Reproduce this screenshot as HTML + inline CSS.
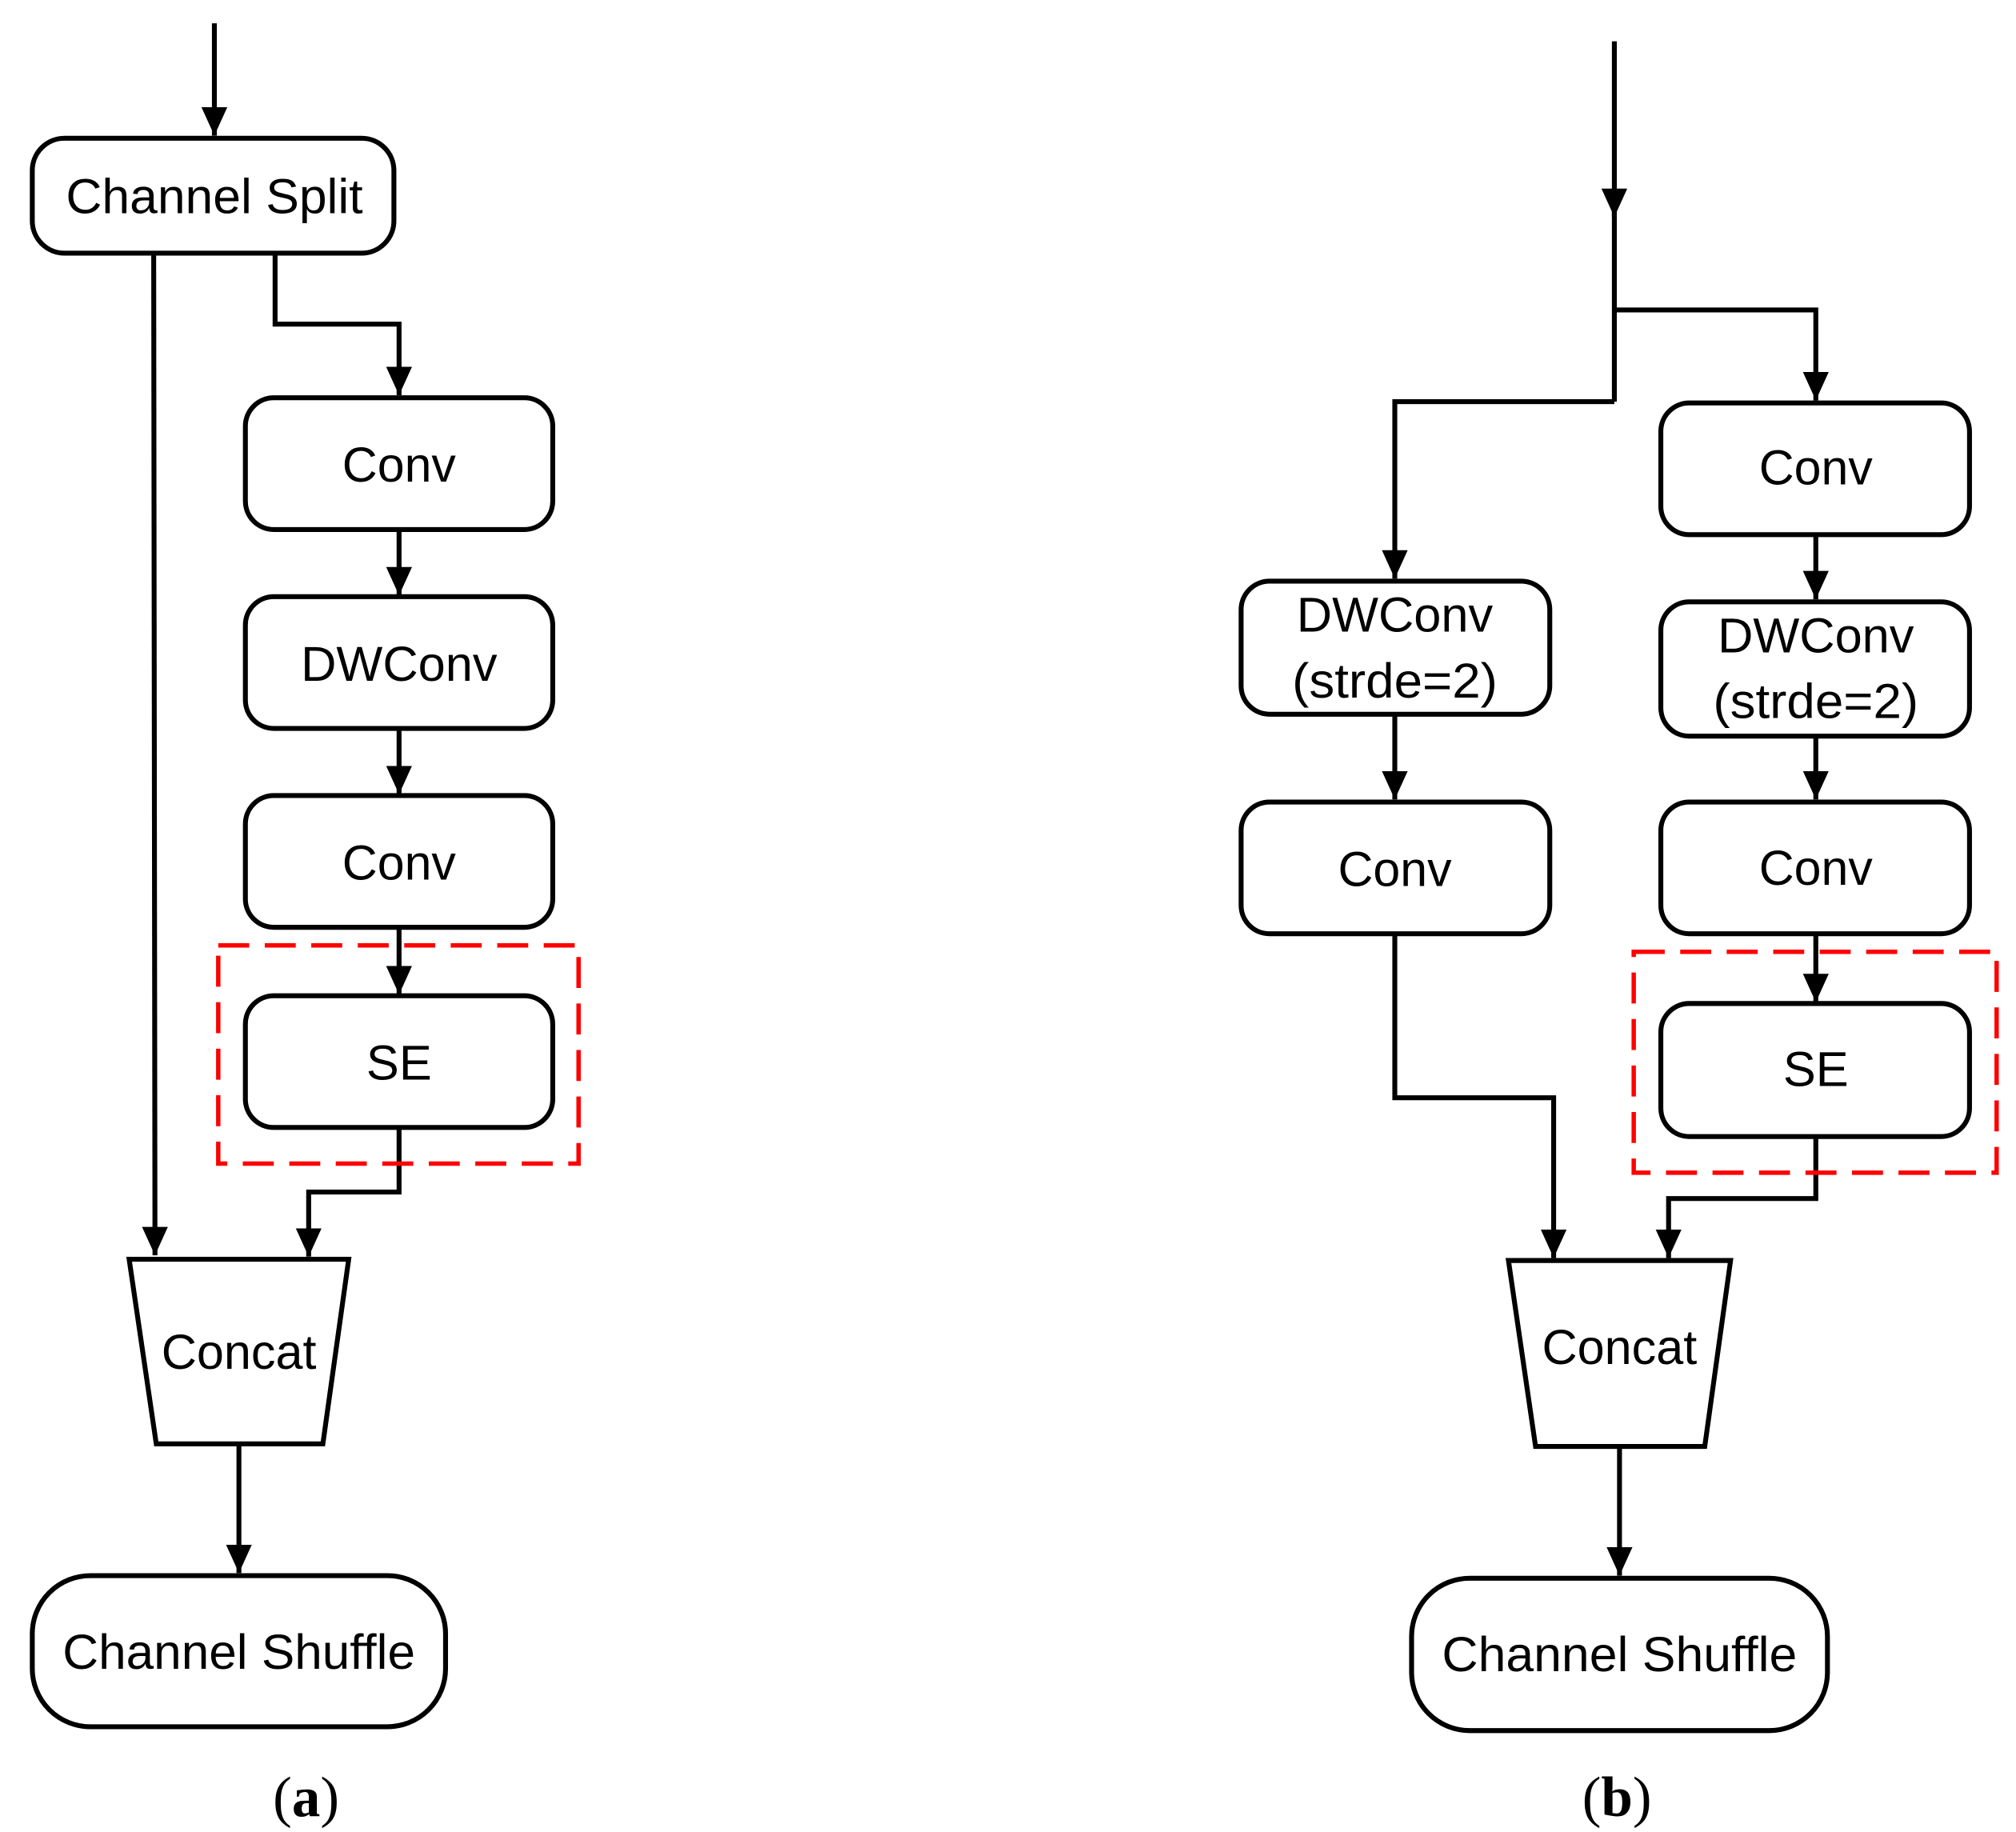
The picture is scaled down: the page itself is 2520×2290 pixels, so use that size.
<!DOCTYPE html>
<html><head><meta charset="utf-8"><style>html,body{margin:0;padding:0;background:#fff}svg{display:block}</style></head>
<body>
<svg width="2520" height="2290" viewBox="0 0 1561 1418.5" xmlns="http://www.w3.org/2000/svg">
<defs>
<marker id="ar" viewBox="0 0 22 20" refX="22" refY="10" markerWidth="22" markerHeight="20" markerUnits="userSpaceOnUse" orient="auto">
<path d="M0,0 L22,10 L0,20 z" fill="#000"/>
</marker>
</defs>
<g fill="none" stroke="#000" stroke-width="3.8">
<line x1="166" y1="18" x2="166" y2="105" marker-end="url(#ar)"/>
<rect x="25" y="107" width="280" height="89" rx="25"/>
<polyline points="119,196 120,972" marker-end="url(#ar)"/>
<polyline points="213,196 213,251 309,251 309,306" marker-end="url(#ar)"/>
<rect x="190" y="308" width="238" height="102" rx="22"/>
<line x1="309" y1="410" x2="309" y2="461" marker-end="url(#ar)"/>
<rect x="190" y="462" width="238" height="102" rx="22"/>
<line x1="309" y1="564" x2="309" y2="615" marker-end="url(#ar)"/>
<rect x="190" y="616" width="238" height="102" rx="22"/>
<line x1="309" y1="718" x2="309" y2="770" marker-end="url(#ar)"/>
<rect x="190" y="771" width="238" height="102" rx="22"/>
<polyline points="309,873 309,923 239,923 239,973" marker-end="url(#ar)"/>
<polygon points="100,975 270,975 250,1118 121,1118"/>
<line x1="185" y1="1118" x2="185" y2="1218" marker-end="url(#ar)"/>
<rect x="25" y="1220" width="320" height="117" rx="45"/>
<line x1="1250" y1="32" x2="1250" y2="168" marker-end="url(#ar)"/>
<line x1="1250" y1="160" x2="1250" y2="311"/>
<polyline points="1250,240 1406,240 1406,310" marker-end="url(#ar)"/>
<polyline points="1250,311 1080,311 1080,448" marker-end="url(#ar)"/>
<rect x="961" y="450" width="239" height="103" rx="22"/>
<line x1="1080" y1="553" x2="1080" y2="619" marker-end="url(#ar)"/>
<rect x="961" y="621" width="239" height="102" rx="22"/>
<polyline points="1080,723 1080,850 1203,850 1203,974" marker-end="url(#ar)"/>
<rect x="1286" y="312" width="239" height="102" rx="22"/>
<line x1="1406" y1="414" x2="1406" y2="464" marker-end="url(#ar)"/>
<rect x="1286" y="466" width="239" height="104" rx="22"/>
<line x1="1406" y1="570" x2="1406" y2="619" marker-end="url(#ar)"/>
<rect x="1286" y="621" width="239" height="102" rx="22"/>
<line x1="1406" y1="723" x2="1406" y2="776" marker-end="url(#ar)"/>
<rect x="1286" y="777" width="239" height="103" rx="22"/>
<polyline points="1406,880 1406,928 1292,928 1292,974" marker-end="url(#ar)"/>
<polygon points="1168,976 1340,976 1320,1120 1189,1120"/>
<line x1="1254" y1="1120" x2="1254" y2="1220" marker-end="url(#ar)"/>
<rect x="1093" y="1222" width="322" height="118" rx="45"/>
</g>
<g fill="none" stroke="#f00" stroke-width="3.4" stroke-dasharray="24,12">
<rect x="169" y="732" width="279" height="169"/>
<rect x="1265" y="737" width="281" height="171"/>
</g>
<g font-family="'Liberation Sans',sans-serif" font-size="38" text-anchor="middle" fill="#000">
<text x="166" y="165" textLength="230" lengthAdjust="spacingAndGlyphs">Channel Split</text>
<text x="309" y="373" textLength="88" lengthAdjust="spacingAndGlyphs">Conv</text>
<text x="309" y="527" textLength="152" lengthAdjust="spacingAndGlyphs">DWConv</text>
<text x="309" y="681" textLength="88" lengthAdjust="spacingAndGlyphs">Conv</text>
<text x="309" y="836">SE</text>
<text x="185" y="1060" textLength="120" lengthAdjust="spacingAndGlyphs">Concat</text>
<text x="185" y="1292" textLength="273" lengthAdjust="spacingAndGlyphs">Channel Shuffle</text>
<text x="1080" y="489" textLength="152" lengthAdjust="spacingAndGlyphs">DWConv</text>
<text x="1080" y="540" textLength="159" lengthAdjust="spacingAndGlyphs">(strde=2)</text>
<text x="1080" y="686" textLength="88" lengthAdjust="spacingAndGlyphs">Conv</text>
<text x="1406" y="375" textLength="88" lengthAdjust="spacingAndGlyphs">Conv</text>
<text x="1406" y="505" textLength="152" lengthAdjust="spacingAndGlyphs">DWConv</text>
<text x="1406" y="556" textLength="159" lengthAdjust="spacingAndGlyphs">(strde=2)</text>
<text x="1406" y="685" textLength="88" lengthAdjust="spacingAndGlyphs">Conv</text>
<text x="1406" y="841">SE</text>
<text x="1254" y="1056" textLength="120" lengthAdjust="spacingAndGlyphs">Concat</text>
<text x="1254" y="1294" textLength="275" lengthAdjust="spacingAndGlyphs">Channel Shuffle</text>
</g>
<g font-family="'Liberation Serif',serif" font-size="44" text-anchor="middle" fill="#000">
<text x="237" y="1406">(<tspan font-weight="bold">a</tspan>)</text>
<text x="1252" y="1406">(<tspan font-weight="bold">b</tspan>)</text>
</g>
</svg>
</body></html>
